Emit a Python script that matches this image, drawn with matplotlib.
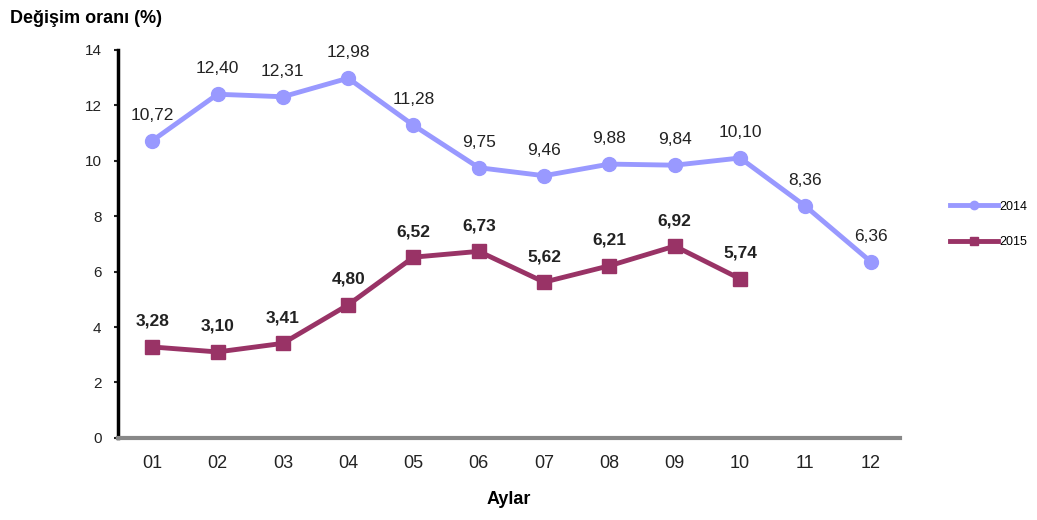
import matplotlib
matplotlib.use("Agg")
import matplotlib.pyplot as plt
import numpy as np

months = ["01", "02", "03", "04", "05", "06", "07", "08", "09", "10", "11", "12"]
values2014 = [10.72, 12.40, 12.31, 12.98, 11.28, 9.75, 9.46, 9.88, 9.84, 10.10, 8.36, 6.36]
values2015 = [3.28, 3.10, 3.41, 4.80, 6.52, 6.73, 5.62, 6.21, 6.92, 5.74]

plt.rcParams['font.family'] = ['Liberation Sans', 'DejaVu Sans']

fig = plt.figure(figsize=(10.37, 5.2), dpi=100)
ax = fig.add_axes([0.114, 0.158, 0.754, 0.746])

x = np.arange(len(months))
ax.plot(x, values2014, color="#9999FF", lw=3.5, marker="o", ms=10, label="2014")
ax.plot(x[:len(values2015)], values2015, color="#993366", lw=3.5, marker="s", ms=10, label="2015")

def fmt(v):
    return "{:.2f}".format(v).replace(".", ",")

for i, v in enumerate(values2014):
    ax.annotate(fmt(v), xy=(i, v), xytext=(0, 13), textcoords="offset points",
                ha="center", va="bottom", fontsize=12.5, color="#222222")
for i, v in enumerate(values2015):
    ax.annotate(fmt(v), xy=(i, v), xytext=(0, 13), textcoords="offset points",
                ha="center", va="bottom", fontsize=12.5, fontweight="bold", color="#222222")

ax.set_xlim(-0.52, 11.45)
ax.set_ylim(0, 14)
ax.set_yticks(range(0, 15, 2))
ax.set_xticks(x)
ax.set_xticklabels(months)
ax.tick_params(axis="x", length=0, labelsize=13, pad=12, colors="#222222")
ax.tick_params(axis="y", length=3, width=1.5, labelsize=11, pad=9, colors="#222222")

for s in ["top", "right"]:
    ax.spines[s].set_visible(False)
ax.spines["left"].set_linewidth(2.5)
ax.spines["left"].set_color("black")
ax.spines["bottom"].set_linewidth(3)
ax.spines["bottom"].set_color("#888888")

ax.set_xlabel("Aylar", fontsize=13, fontweight="bold", labelpad=14)
fig.text(0.01, 0.965, "Değişim oranı (%)", fontsize=13, fontweight="bold", ha="left", va="center")

leg = ax.legend(loc="center left", bbox_to_anchor=(1.05, 0.55), frameon=False,
                fontsize=9, handlelength=3.8, markerscale=0.6, labelspacing=1.9, handletextpad=0.1)

fig.savefig("out.png", dpi=100)
